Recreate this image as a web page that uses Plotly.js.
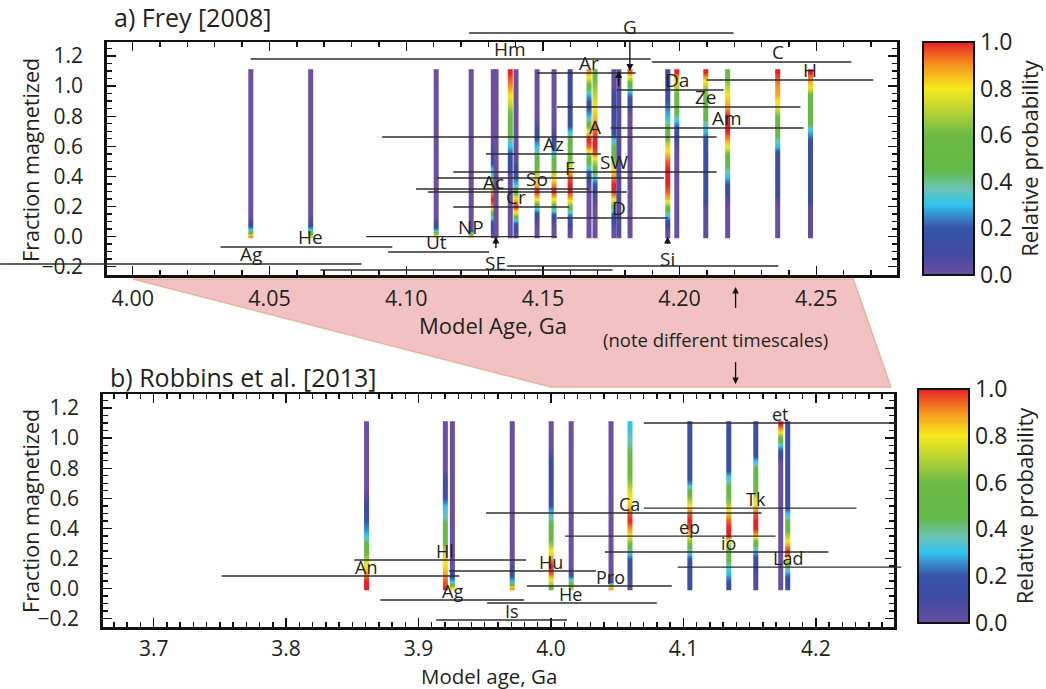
<!DOCTYPE html>
<html><head><meta charset="utf-8">
<script src="https://cdn.plot.ly/plotly-3.0.1.min.js"></script>
<style>html,body{margin:0;padding:0;background:#fff}#chart{width:1046px;height:689px}</style>
</head><body><div id="chart"></div>
<script>
// y levels of the probability profiles (fraction magnetized), bottom to top
const probLevels = [0,0.05,0.1,0.15,0.2,0.25,0.3,0.35,0.4,0.45,0.5,0.55,0.6,0.65,0.7,0.75,0.8,0.85,0.9,0.95,1.0,1.05,1.1];

// ---------- a) Frey [2008] ----------
const freyNames   = ['Ag','He','Ut','NP','Ac','SE','Hm','Cr','So','Az','F','Ar','A','SW','D','G','Si','Da','Ze','Am','C','H'];
const freyAges    = [4.0431,4.0650,4.1109,4.1237,4.1318,4.1328,4.1380,4.1401,4.1478,4.1540,4.1599,4.1668,4.1690,4.1759,4.1777,4.1818,4.1956,4.1989,4.2095,4.2175,4.2358,4.2478];
const freyLineY   = [-0.182,-0.069,-0.102,0.0,0.296,-0.222,1.180,0.197,0.316,0.549,0.389,1.087,0.662,0.429,0.124,1.353,-0.195,0.974,0.861,0.722,1.160,1.041];
const freyLineMin = [3.9515,4.0321,4.0934,4.0854,4.1080,4.0686,4.0431,4.1172,4.1036,4.1292,4.1113,4.1478,4.0912,4.1172,4.1551,4.1230,4.1369,4.1770,4.1551,4.1748,4.1898,4.2099];
const freyLineMax = [4.0836,4.0949,4.1303,4.1551,4.1807,4.1755,4.1894,4.1595,4.1668,4.1712,4.1942,4.1839,4.2135,4.2135,4.1956,4.2197,4.2361,4.2161,4.2442,4.2453,4.2628,4.2708];
const freyProb = [
 [0.9,0.3,0.05,0,0,0,0,0,0,0,0,0,0,0,0,0,0,0,0,0,0,0,0],                 // Ag
 [0.75,0.3,0.05,0,0,0,0,0,0,0,0,0,0,0,0,0,0,0,0,0,0,0,0],                // He
 [0.8,0.25,0.05,0,0,0,0,0,0,0,0,0,0,0,0,0,0,0,0,0,0,0,0],                // Ut
 [0.75,0.05,0,0,0,0,0,0,0,0,0,0,0,0,0,0,0,0,0,0,0,0,0],                  // NP
 [0.02,0.1,0.2,0.45,0.9,1.0,0.9,0.6,0.35,0.3,0.15,0.1,0.05,0,0,0,0,0,0,0,0,0,0], // Ac
 [0,0,0,0,0,0,0,0,0,0,0,0,0,0,0,0,0,0,0,0,0,0,0],                        // SE
 [0,0,0,0,0,0,0,0,0.05,0.1,0.15,0.2,0.3,0.4,0.5,0.55,0.6,0.65,0.75,0.82,0.9,0.95,1.0], // Hm
 [0.02,0.1,0.25,0.7,1.0,0.85,0.5,0.3,0.2,0.12,0.05,0,0,0,0,0,0,0,0,0,0,0,0], // Cr
 [0,0,0.05,0.15,0.4,0.8,1.0,0.85,0.75,0.6,0.5,0.4,0.3,0.2,0.12,0.05,0,0,0,0,0,0,0], // So
 [0,0,0.05,0.2,0.5,0.8,1.0,0.9,0.75,0.6,0.5,0.35,0.2,0.1,0.05,0,0,0,0,0,0,0,0],   // Az
 [0,0.05,0.15,0.25,0.55,0.85,1.0,1.0,0.95,0.8,0.65,0.55,0.5,0.45,0.3,0.15,0.12,0.1,0.1,0.1,0.1,0.1,0.1], // F
 [0,0,0,0,0,0,0,0.05,0.15,0.3,0.5,0.7,0.95,1.0,0.8,0.5,0.3,0.2,0.2,0.3,0.55,0.75,0.9], // Ar
 [0,0,0,0,0,0.05,0.1,0.2,0.35,0.55,0.7,0.95,1.0,1.0,0.95,0.9,0.85,0.8,0.75,0.7,0.65,0.6,0.6], // A
 [0,0,0.1,0.2,0.5,0.8,1.0,1.0,0.9,0.8,0.65,0.55,0.45,0.3,0.15,0.1,0.1,0.1,0.1,0.1,0.02,0.02,0.02], // SW
 [0.02,0.05,0.05,0.05,0.05,0.05,0.05,0.05,0.05,0.05,0.05,0.05,0.05,0.05,0.05,0.05,0.05,0.05,0.05,0.05,0.02,0.02,0.02], // D
 [0,0,0,0,0,0,0,0,0,0,0,0,0,0,0,0,0,0.05,0.15,0.25,0.45,0.7,0.95], // G
 [0,0.05,0.15,0.35,0.6,0.85,0.95,1.0,1.0,1.0,0.95,0.85,0.75,0.6,0.5,0.4,0.3,0.25,0.2,0.2,0.15,0.15,0.15], // Si
 [0,0,0,0,0,0,0,0,0,0,0,0,0.05,0.1,0.15,0.25,0.4,0.5,0.55,0.6,0.7,0.85,1.0], // Da
 [0.02,0.02,0.02,0.02,0.02,0.15,0.15,0.15,0.15,0.15,0.15,0.15,0.15,0.2,0.3,0.35,0.5,0.55,0.58,0.62,0.7,0.85,1.0], // Ze
 [0,0,0,0,0,0.05,0.1,0.2,0.3,0.4,0.5,0.6,0.8,0.9,1.0,1.0,1.0,0.9,0.85,0.8,0.7,0.6,0.55], // Am
 [0,0,0,0,0,0.05,0.15,0.15,0.15,0.15,0.15,0.15,0.3,0.4,0.5,0.55,0.6,0.75,0.8,0.88,0.9,0.95,1.0], // C
 [0.02,0.02,0.02,0.02,0.02,0.15,0.15,0.15,0.15,0.15,0.15,0.15,0.15,0.2,0.3,0.45,0.5,0.5,0.55,0.6,0.82,0.9,1.0] // H
];

// ---------- b) Robbins et al. [2013] ----------
const robNames   = ['An','Hl','Ag','Is','Hu','He','Pro','Ca','ep','io','Tk','et','Lad'];
const robAges    = [3.8606,3.9201,3.9254,3.9706,4.0000,4.0151,4.0452,4.0595,4.1047,4.1341,4.1545,4.1733,4.1786];
const robLineY   = [0.084,0.190,-0.076,-0.209,0.117,-0.096,0.017,0.502,0.349,0.243,0.535,1.100,0.143];
const robLineMin = [3.7513,3.8515,3.8711,3.9133,3.9231,3.9518,3.9819,3.9510,4.0106,4.0407,4.0701,4.0701,4.0957];
const robLineMax = [3.9307,3.9812,3.9797,4.0121,4.0339,4.0799,4.0912,4.1590,4.1696,4.2095,4.2306,4.2600,4.2645];
const robProb = [
 [1.0,1.0,0.9,0.8,0.7,0.55,0.45,0.32,0.25,0.2,0.15,0.12,0.05,0,0,0,0,0,0,0,0,0,0], // An
 [1.0,0.95,0.88,0.82,0.78,0.7,0.6,0.55,0.5,0.42,0.35,0.3,0.2,0.15,0.12,0.05,0,0,0,0,0,0,0], // Hl
 [0.8,0.3,0.1,0,0,0,0,0,0,0,0,0,0,0,0,0,0,0,0,0,0,0,0], // Ag
 [0.9,0.3,0.15,0.05,0,0,0,0,0,0,0,0,0,0,0,0,0,0,0,0,0,0,0], // Is
 [0.55,0.75,0.95,1.0,0.9,0.8,0.65,0.55,0.5,0.42,0.32,0.2,0.15,0.12,0.1,0.1,0.1,0.1,0.05,0,0,0,0], // Hu
 [0.7,0.4,0.1,0,0,0,0,0,0,0,0,0,0,0,0,0,0,0,0,0,0,0,0], // He
 [0.9,0.1,0,0,0,0,0,0,0,0,0,0,0,0,0,0,0,0,0,0,0,0,0], // Pro
 [0.02,0.05,0.12,0.15,0.2,0.35,0.6,0.8,0.9,1.0,0.95,0.85,0.8,0.75,0.65,0.6,0.55,0.5,0.45,0.4,0.35,0.32,0.3], // Ca
 [0.15,0.15,0.15,0.15,0.2,0.35,0.6,0.8,0.95,1.0,0.95,0.8,0.65,0.5,0.25,0.15,0.15,0.15,0.15,0.15,0.15,0.15,0.15], // ep
 [0.15,0.2,0.3,0.35,0.5,0.6,0.7,1.0,1.0,0.95,0.85,0.7,0.6,0.55,0.4,0.3,0.15,0.15,0.15,0.15,0.15,0.15,0.05], // io
 [0.05,0.05,0.05,0.15,0.15,0.3,0.5,0.85,1.0,1.0,0.95,0.82,0.75,0.6,0.55,0.5,0.45,0.3,0.15,0.15,0.15,0.15,0.15], // Tk
 [0,0,0,0,0,0,0,0,0,0,0,0,0,0,0,0,0,0.02,0.15,0.3,0.55,0.85,1.0], // et
 [0.15,0.15,0.25,0.45,0.8,1.0,0.85,0.7,0.55,0.45,0.3,0.15,0.15,0.15,0.15,0.15,0.15,0.15,0.15,0.15,0.15,0.15,0.15] // Lad
];

// ---------- styling / geometry ----------
const W = 1046, H = 689;
const FONT = '"Open Sans", "Liberation Sans", sans-serif';
const INK = '#231f20';
const jet = [[0,'#6a4fa3'],[0.1,'#3f4aa0'],[0.2,'#3454aa'],[0.25,'#3a86c9'],[0.3,'#2fc3ef'],[0.37,'#6cc4b2'],[0.45,'#63b947'],[0.6,'#6dba44'],[0.7,'#b6d334'],[0.8,'#f6ea1c'],[0.9,'#f6951f'],[1.0,'#e72027']];

const topDomX = [107/W, 899/W], topDomY = [1-275/H, 1-42/H];
const botDomX = [103/W, 896/W], botDomY = [1-627/H, 1-394/H];
const topRangeX = [3.9905, 4.2796], botRangeX = [3.6616, 4.2592];
const rangeY = [-0.2551, 1.2930];

function extendRange(r, d) { const span = (r[1]-r[0])/(d[1]-d[0]); return [r[0]-d[0]*span, r[0]+(1-d[0])*span]; }
function toPaper(v, r, d) { return d[0] + (v-r[0])/(r[1]-r[0])*(d[1]-d[0]); }

const yEdges = [-0.012].concat(probLevels.slice(1).map(v => +(v-0.025).toFixed(3))).concat([1.112]);

function barTraces(ages, profiles, xa, ya, cax, halfW) {
  return ages.map((a, i) => ({
    type:'heatmap', x:[a-halfW, a, a+halfW], y:yEdges,
    z: profiles[i].map(v => [v, v]),
    coloraxis:cax, xaxis:xa, yaxis:ya, zsmooth:'best', hoverinfo:'skip'
  }));
}
function lineTrace(lo, hi, ys, xa, ya) {
  const x = [], y = [];
  lo.forEach((l, i) => { x.push(l, hi[i], null); y.push(ys[i], ys[i], null); });
  return {type:'scatter', mode:'lines', x, y, xaxis:xa, yaxis:ya, line:{color:'#2e2e2e', width:1.4}, hoverinfo:'skip', showlegend:false};
}

const traces = []
  .concat(barTraces(freyAges, freyProb, 'x', 'y', 'coloraxis', 0.00085))
  .concat(barTraces(robAges, robProb, 'x2', 'y2', 'coloraxis2', 0.00175))
  .concat([lineTrace(freyLineMin, freyLineMax, freyLineY, 'x3', 'y3'),
           lineTrace(robLineMin, robLineMax, robLineY, 'x4', 'y4')]);

const ax = {showline:true, linewidth:2.5, linecolor:'#111', mirror:'ticks', ticks:'inside', ticklen:9, tickwidth:1.4,
  tickcolor:'#111', showgrid:false, zeroline:false, fixedrange:true, tickfont:{family:FONT, size:21, color:INK}};

const annotations = [];
const LBL = 19;
const arrowSpecial = {G:-44, SE:26, Si:22};
freyNames.forEach((n, i) => {
  if (n in arrowSpecial) {
    const y = n === 'G' ? probLevels[probLevels.length-1] : probLevels[0];
    annotations.push({xref:'x', yref:'y', x:freyAges[i], y:y, text:n, showarrow:true, ax:0, ay:arrowSpecial[n],
      arrowhead:2, arrowsize:1, arrowwidth:1.4, arrowcolor:'#111', standoff:0, font:{family:FONT, size:LBL, color:INK}});
  } else {
    annotations.push({xref:'x', yref:'y', x:freyAges[i], y:freyLineY[i], text:n, showarrow:false, xanchor:'center', yanchor:'bottom', yshift:-5,
      font:{family:FONT, size:LBL, color:INK}});
  }
});
// small arrow above the D bar
annotations.push({xref:'x', yref:'y', x:freyAges[freyNames.indexOf('D')], y:probLevels[probLevels.length-1], text:' ',
  showarrow:true, ax:0, ay:25, arrowhead:2, arrowsize:1, arrowwidth:1.4, arrowcolor:'#111', standoff:0});
robNames.forEach((n, i) => {
  annotations.push({xref:'x2', yref:'y2', x:robAges[i], y:robLineY[i], text:n, showarrow:false, xanchor:'center', yanchor:'bottom', yshift:-5,
    font:{family:FONT, size:18, color:INK}});
});
function paperText(px, py, text, size, extra) {
  return Object.assign({xref:'paper', yref:'paper', x:px/W, y:1-py/H, xanchor:'center', yanchor:'middle', text:text, showarrow:false,
    font:{family:FONT, size:size, color:INK}}, extra || {});
}
// panel titles, axis titles
annotations.push(paperText(112, 17, 'a) Frey [2008]', 25, {xanchor:'left'}));
annotations.push(paperText(108, 377, 'b) Robbins et al. [2013]', 25, {xanchor:'left'}));
annotations.push(paperText(494, 325, 'Model Age, Ga', 22));
annotations.push(paperText(490, 676, 'Model age, Ga', 20.5, {borderpad:0}));
annotations.push(paperText(30, 160, 'Fraction magnetized', 21.5, {textangle:-90}));
annotations.push(paperText(30, 511, 'Fraction magnetized', 21.5, {textangle:-90}));
// note different timescales
annotations.push(paperText(717, 339, '(note different timescales)', 18.5));
annotations.push({xref:'paper', yref:'paper', x:737/W, y:1-287/H, text:' ', showarrow:true, ax:0, ay:31, arrowhead:2, arrowsize:1, arrowwidth:1.3, arrowcolor:'#111', standoff:0});
annotations.push({xref:'paper', yref:'paper', x:737/W, y:1-384/H, text:' ', showarrow:true, ax:0, ay:-32, arrowhead:2, arrowsize:1, arrowwidth:1.3, arrowcolor:'#111', standoff:0});

// pink connector between the two time axes
const pxT = [toPaper(4.00, topRangeX, topDomX), toPaper(4.2635, topRangeX, topDomX)];
const pxB = [toPaper(4.00, botRangeX, botDomX), toPaper(4.2566, botRangeX, botDomX)];
const pyT = topDomY[0] - 4/H, pyB = botDomY[1] + 7/H;
const shapes = [{type:'path', xref:'paper', yref:'paper', layer:'below',
  path:`M ${pxT[0]},${pyT} L ${pxT[1]},${pyT} L ${pxB[1]},${pyB} L ${pxB[0]},${pyB} Z`,
  fillcolor:'#f2c2c2', line:{color:'#e6b49c', width:1.5}}];

const cbar = (y, x, len) => ({x:x, xanchor:'left', y:y, yanchor:'middle', len:len, lenmode:'fraction', thickness:51, thicknessmode:'pixels',
  xpad:0, ypad:0, outlinewidth:2, outlinecolor:'#111', ticks:'', tickvals:[0,0.2,0.4,0.6,0.8,1.0], tickformat:'.1f',
  tickfont:{family:FONT, size:23, color:INK}, title:{text:'Relative probability', side:'right', font:{family:FONT, size:22, color:INK}}});

const layout = {
  width:W, height:H, margin:{l:0, r:0, t:0, b:0}, paper_bgcolor:'#fff', plot_bgcolor:'rgba(0,0,0,0)', showlegend:false,
  font:{family:FONT, color:INK},
  xaxis: Object.assign({}, ax, {domain:topDomX, range:topRangeX, anchor:'y', dtick:0.05, tick0:4.0, tickformat:'.2f', ticklabelstandoff:3,
    tickfont:{family:FONT, size:21.5, color:INK}, minor:{dtick:0.01, ticklen:5, tickcolor:'#111', ticks:'inside'}}),
  yaxis: Object.assign({}, ax, {domain:topDomY, range:rangeY, anchor:'x', dtick:0.2, tick0:0, tickformat:'.1f', ticklabelstandoff:17,
    minor:{dtick:0.05, ticklen:5, tickcolor:'#111', ticks:'inside'}}),
  xaxis2: Object.assign({}, ax, {domain:botDomX, range:botRangeX, anchor:'y2', dtick:0.1, tick0:3.7, tickformat:'.1f', ticklabelstandoff:1,
    tickfont:{family:FONT, size:21, color:INK}, minor:{dtick:0.01, ticklen:5, tickcolor:'#111', ticks:'inside'}}),
  yaxis2: Object.assign({}, ax, {domain:botDomY, range:rangeY, anchor:'x2', dtick:0.2, tick0:0, tickformat:'.1f', ticklabelstandoff:17,
    minor:{dtick:0.05, ticklen:5, tickcolor:'#111', ticks:'inside'}}),
  xaxis3: {domain:[0,1], range:extendRange(topRangeX, topDomX), anchor:'y3', visible:false, fixedrange:true},
  yaxis3: {domain:[0,1], range:extendRange(rangeY, topDomY), anchor:'x3', visible:false, fixedrange:true},
  xaxis4: {domain:[0,1], range:extendRange(botRangeX, botDomX), anchor:'y4', visible:false, fixedrange:true},
  yaxis4: {domain:[0,1], range:extendRange(rangeY, botDomY), anchor:'x4', visible:false, fixedrange:true},
  coloraxis: {colorscale:jet, cmin:0, cmax:1, colorbar:cbar(1-158.5/H, 925/W, 233/H)},
  coloraxis2: {colorscale:jet, cmin:0, cmax:1, colorbar:cbar(1-506/H, 920/W, 234/H)},
  annotations, shapes
};

Plotly.newPlot('chart', traces, layout, {staticPlot:true, displayModeBar:false});
</script>
</body></html>
